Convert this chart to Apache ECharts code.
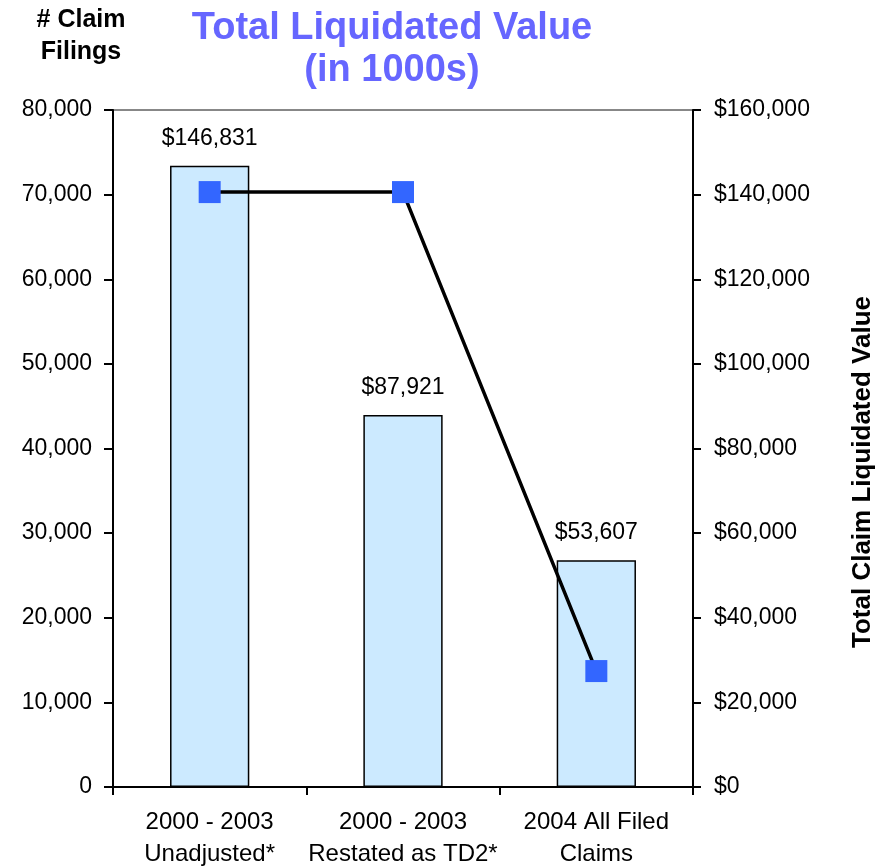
<!DOCTYPE html>
<html>
<head>
<meta charset="utf-8">
<script src="https://cdn.jsdelivr.net/npm/echarts@6/dist/echarts.min.js"></script>
<style>
  html, body { margin: 0; padding: 0; background: #fff; }
  #chart { width: 889px; height: 867px; }
</style>
</head>
<body>
<div id="chart"></div>
<script>
const categories = ['2000 - 2003\nUnadjusted*', '2000 - 2003\nRestated as TD2*', '2004 All Filed\nClaims'];
const liquidatedValue = [146831, 87921, 53607]; // right axis, $ (in 1000s)
const claimFilings = [70300, 70300, 13700]; // left axis, # claim filings

const FONT = '"Liberation Sans", Arial, sans-serif';
const fmt = (v) => v.toLocaleString('en-US');

const chart = echarts.init(document.getElementById('chart'));

const option = {
  animation: false,
  backgroundColor: '#ffffff',
  title: [
    {
      text: 'Total Liquidated Value\n(in 1000s)',
      left: 387,
      top: 3,
      textAlign: 'center',
      textStyle: {
        color: '#6666ff',
        fontSize: 38,
        fontWeight: 'bold',
        fontFamily: FONT,
        lineHeight: 42,
      },
    },
    {
      text: '# Claim\nFilings',
      left: 76,
      top: -1,
      textAlign: 'center',
      textStyle: {
        color: '#000',
        fontSize: 25,
        fontWeight: 'bold',
        fontFamily: FONT,
        lineHeight: 32,
      },
    },
  ],
  graphic: [
    {
      type: 'text',
      x: 863,
      y: 472,
      rotation: Math.PI / 2,
      style: {
        text: 'Total Claim Liquidated Value',
        align: 'center',
        verticalAlign: 'middle',
        fill: '#000',
        font: 'bold 26px ' + FONT,
      },
    },
  ],
  grid: {
    left: 113,
    right: 196,
    top: 110,
    bottom: 80,
    outerBoundsMode: 'none',
    containLabel: false,
    show: true,
    borderColor: '#111',
    borderWidth: 1,
  },
  xAxis: {
    type: 'category',
    data: categories,
    axisLine: { lineStyle: { color: '#000', width: 2 } },
    axisTick: { show: true, length: 8, lineStyle: { color: '#000', width: 2 } },
    axisLabel: {
      color: '#000',
      fontSize: 24,
      fontFamily: FONT,
      lineHeight: 32,
      margin: 19,
      interval: 0,
    },
  },
  yAxis: [
    {
      type: 'value',
      min: 0,
      max: 80000,
      interval: 10000,
      position: 'left',
      splitLine: { show: false },
      axisLine: { show: true, lineStyle: { color: '#000', width: 2 } },
      axisTick: { show: true, length: 9, lineStyle: { color: '#000', width: 2 } },
      axisLabel: {
        color: '#000',
        fontSize: 23,
        fontFamily: FONT,
        margin: 21,
        formatter: (v) => fmt(v),
      },
    },
    {
      type: 'value',
      min: 0,
      max: 160000,
      interval: 20000,
      position: 'right',
      splitLine: { show: false },
      axisLine: { show: true, lineStyle: { color: '#000', width: 2 } },
      axisTick: { show: true, length: 8, lineStyle: { color: '#000', width: 2 } },
      axisLabel: {
        color: '#000',
        fontSize: 23,
        fontFamily: FONT,
        margin: 21,
        formatter: (v) => '$' + fmt(v),
      },
    },
  ],
  series: [
    {
      type: 'bar',
      yAxisIndex: 1,
      data: liquidatedValue,
      barWidth: '41%',
      itemStyle: {
        color: '#cceaff',
        borderColor: '#000',
        borderWidth: 1.5,
      },
      label: {
        show: true,
        position: 'top',
        distance: 16,
        color: '#000',
        fontSize: 23,
        fontFamily: FONT,
        formatter: (p) => '$' + fmt(p.value),
      },
      z: 2,
    },
    {
      type: 'line',
      yAxisIndex: 0,
      data: claimFilings,
      symbol: 'rect',
      symbolSize: 22,
      lineStyle: { color: '#000', width: 3.5 },
      itemStyle: { color: '#3366ff', borderWidth: 0 },
      z: 5,
    },
  ],
};

chart.setOption(option);
</script>
</body>
</html>
